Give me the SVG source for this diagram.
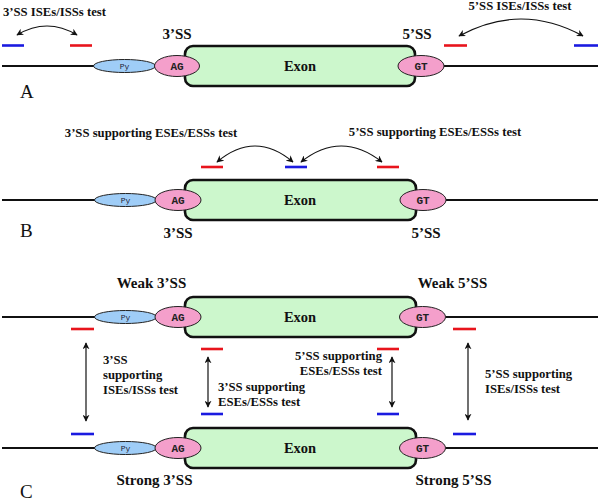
<svg xmlns="http://www.w3.org/2000/svg" width="600" height="502" viewBox="0 0 600 502">
<defs>
<style>
.t{font-family:"Liberation Serif","Times New Roman",serif;font-weight:bold;font-size:12.7px;fill:#111}
.big{font-family:"Liberation Serif","Times New Roman",serif;font-weight:bold;font-size:15px;fill:#111}
.ex{font-family:"Liberation Serif","Times New Roman",serif;font-weight:bold;font-size:14.5px;fill:#111;text-anchor:middle}
.pl{font-family:"Liberation Serif","Times New Roman",serif;font-size:19px;fill:#111}
.mid{text-anchor:middle}
.end{text-anchor:end}
.dna{stroke:#111;stroke-width:2.2;fill:none}
.exon{fill:#ccf7cc;stroke:#111;stroke-width:2.6}
.py{fill:#9fcdf7;stroke:#222;stroke-width:1}
.ss{fill:#f49fcb;stroke:#222;stroke-width:1}
.pyt{font-family:"Liberation Mono","Courier New",monospace;font-size:8px;fill:#223;text-anchor:middle}
.sst{font-family:"Liberation Mono","Courier New",monospace;font-weight:bold;font-size:11px;fill:#222;text-anchor:middle}
.red{stroke:#e8141c;stroke-width:2.6}
.blue{stroke:#1a1ae0;stroke-width:2.6}
.arr{stroke:#111;stroke-width:1.2;fill:none;marker-end:url(#ah);marker-start:url(#ah)}
</style>
<marker id="ah" viewBox="0 0 10 10" refX="9" refY="5" markerWidth="7" markerHeight="7" markerUnits="userSpaceOnUse" orient="auto-start-reverse">
<path d="M0,0 L10,5 L0,10 L3,5 z" fill="#111"/>
</marker>
</defs>

<g id="panelA">
<g id="A-intron-left"><line class="dna" x1="2" y1="66" x2="94" y2="66"/></g>
<g id="A-intron-right"><line class="dna" x1="444" y1="66" x2="598" y2="66"/></g>
<g id="A-exon"><rect class="exon" x="185" y="46" width="230" height="40" rx="8"/><text class="ex" x="300" y="71">Exon</text></g>
<g id="A-py"><ellipse class="py" cx="124.5" cy="66" rx="31" ry="6.5"/><text class="pyt" x="124.5" y="69">Py</text></g>
<g id="A-ag"><ellipse class="ss" cx="177" cy="66" rx="22.5" ry="10.5"/><text class="sst" x="177" y="70">AG</text></g>
<g id="A-gt"><ellipse class="ss" cx="421" cy="66" rx="23" ry="10.5"/><text class="sst" x="421" y="70">GT</text></g>
<g id="A-labels">
<text class="big mid" x="177" y="39">3’SS</text>
<text class="big mid" x="417" y="39">5’SS</text>
<text class="t" x="3" y="16">3’SS ISEs/ISSs test</text>
<text class="t mid" x="520" y="10">5’SS ISEs/ISSs test</text>
<text class="pl" x="20" y="98">A</text>
</g>
<g id="A-elements">
<line class="blue" x1="2" y1="45.5" x2="24" y2="45.5"/>
<line class="red" x1="70" y1="45.5" x2="92" y2="45.5"/>
<line class="red" x1="444" y1="45.5" x2="467" y2="45.5"/>
<line class="blue" x1="574" y1="45.5" x2="598" y2="45.5"/>
</g>
</g>

<g id="panelB">
<g id="B-intron-left"><line class="dna" x1="2" y1="200" x2="95" y2="200"/></g>
<g id="B-intron-right"><line class="dna" x1="446" y1="200" x2="598" y2="200"/></g>
<g id="B-exon"><rect class="exon" x="185" y="180" width="231" height="40" rx="8"/><text class="ex" x="300" y="205">Exon</text></g>
<g id="B-py"><ellipse class="py" cx="125.5" cy="200" rx="31" ry="6.5"/><text class="pyt" x="125.5" y="203">Py</text></g>
<g id="B-ag"><ellipse class="ss" cx="178" cy="200" rx="23" ry="10.5"/><text class="sst" x="178" y="204">AG</text></g>
<g id="B-gt"><ellipse class="ss" cx="423" cy="200" rx="23" ry="10.5"/><text class="sst" x="423" y="204">GT</text></g>
<g id="B-labels">
<text class="big mid" x="178" y="238">3’SS</text>
<text class="big mid" x="426" y="238">5’SS</text>
<text class="t mid" x="151" y="137">3’SS supporting ESEs/ESSs test</text>
<text class="t mid" x="435" y="136">5’SS supporting ESEs/ESSs test</text>
<text class="pl" x="20" y="237">B</text>
</g>
<g id="B-elements">
<line class="red" x1="201" y1="167" x2="223" y2="167"/>
<line class="blue" x1="285" y1="167" x2="307" y2="167"/>
<line class="red" x1="377" y1="167" x2="399" y2="167"/>
</g>
</g>

<g id="panelC">
<g id="C-top-intron-left"><line class="dna" x1="2" y1="317" x2="95" y2="317"/></g>
<g id="C-top-intron-right"><line class="dna" x1="446" y1="317" x2="598" y2="317"/></g>
<g id="C-top-exon"><rect class="exon" x="185" y="297" width="231" height="40" rx="8"/><text class="ex" x="300" y="322">Exon</text></g>
<g id="C-top-py"><ellipse class="py" cx="125.5" cy="317" rx="31" ry="6.5"/><text class="pyt" x="125.5" y="320">Py</text></g>
<g id="C-top-ag"><ellipse class="ss" cx="178" cy="317" rx="23" ry="10.5"/><text class="sst" x="178" y="321">AG</text></g>
<g id="C-top-gt"><ellipse class="ss" cx="422.5" cy="317" rx="23" ry="10.5"/><text class="sst" x="422.5" y="321">GT</text></g>

<g id="C-bot-intron-left"><line class="dna" x1="2" y1="448" x2="95" y2="448"/></g>
<g id="C-bot-intron-right"><line class="dna" x1="446" y1="448" x2="598" y2="448"/></g>
<g id="C-bot-exon"><rect class="exon" x="185" y="428" width="231" height="40" rx="8"/><text class="ex" x="300" y="453">Exon</text></g>
<g id="C-bot-py"><ellipse class="py" cx="125.5" cy="448" rx="31" ry="6.5"/><text class="pyt" x="125.5" y="451">Py</text></g>
<g id="C-bot-ag"><ellipse class="ss" cx="178" cy="448" rx="23" ry="10.5"/><text class="sst" x="178" y="452">AG</text></g>
<g id="C-bot-gt"><ellipse class="ss" cx="422.5" cy="448" rx="23" ry="10.5"/><text class="sst" x="422.5" y="452">GT</text></g>

<g id="C-labels">
<text class="big mid" x="151.5" y="288">Weak 3’SS</text>
<text class="big mid" x="452.5" y="288">Weak 5’SS</text>
<text class="big mid" x="154.5" y="485">Strong 3’SS</text>
<text class="big mid" x="453.5" y="485">Strong 5’SS</text>
<text class="t" x="103"><tspan x="103" y="364">3’SS</tspan><tspan x="103" y="379">supporting</tspan><tspan x="103" y="394">ISEs/ISSs test</tspan></text>
<text class="t" x="218"><tspan x="218" y="391">3’SS supporting</tspan><tspan x="218" y="406">ESEs/ESSs test</tspan></text>
<text class="t end" x="382"><tspan x="382" y="360">5’SS supporting</tspan><tspan x="382" y="375">ESEs/ESSs test</tspan></text>
<text class="t" x="485"><tspan x="485" y="378">5’SS supporting</tspan><tspan x="485" y="393">ISEs/ISSs test</tspan></text>
<text class="pl" x="20" y="498">C</text>
</g>
<g id="C-elements">
<line class="red" x1="71" y1="329" x2="94" y2="329"/>
<line class="blue" x1="71" y1="434" x2="94" y2="434"/>
<line class="red" x1="201" y1="349" x2="223" y2="349"/>
<line class="blue" x1="201" y1="414" x2="223" y2="414"/>
<line class="red" x1="377" y1="349" x2="399" y2="349"/>
<line class="blue" x1="377" y1="414" x2="399" y2="414"/>
<line class="red" x1="453" y1="329" x2="476" y2="329"/>
<line class="blue" x1="453" y1="434" x2="476" y2="434"/>
</g>
</g>

<g id="connectors">
<path class="arr" d="M17,35 Q47,17 77,35"/>
<path class="arr" d="M459,36 Q521,2 583,36"/>
<path class="arr" d="M217,162 Q255,130 293,162"/>
<path class="arr" d="M301,162 Q341,130 382,162"/>
<line class="arr" x1="86" y1="343" x2="86" y2="421"/>
<line class="arr" x1="208" y1="357" x2="208" y2="407"/>
<line class="arr" x1="392" y1="357" x2="392" y2="407"/>
<line class="arr" x1="468" y1="343" x2="468" y2="420"/>
</g>
</svg>
